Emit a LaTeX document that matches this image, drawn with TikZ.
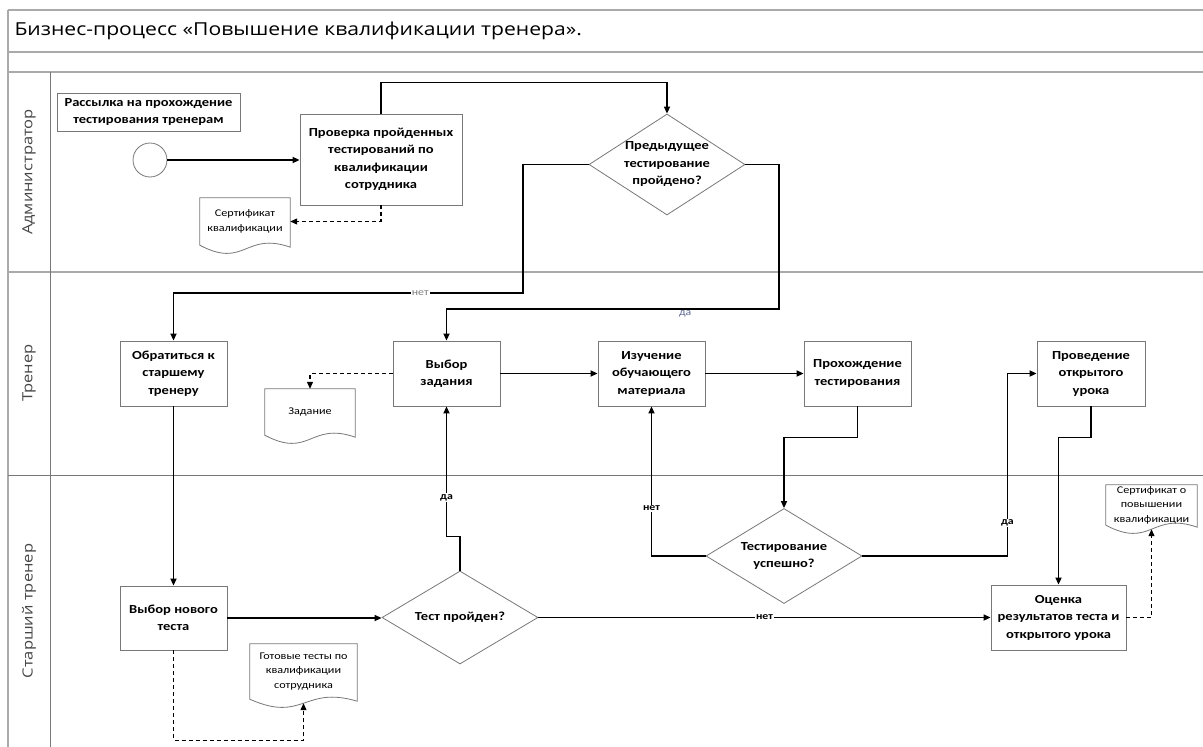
\documentclass[tikz,border=0pt]{standalone}
\usepackage{fontspec}
\setmainfont{Carlito}[FakeStretch=1.18]
\newfontfamily\headfont{Open Sans}[FakeStretch=1.18]
\usetikzlibrary{arrows.meta,positioning,calc,shapes.geometric}
\definecolor{lanegray}{RGB}{170,170,170}
\definecolor{boxgray}{RGB}{120,120,120}
\definecolor{lanetext}{RGB}{70,70,70}
\definecolor{notegray}{RGB}{125,125,125}
\definecolor{yesblue}{RGB}{95,105,150}

\newcommand{\boxtext}{\fontsize{12.3}{17.5}\selectfont\bfseries}
\newcommand{\doctext}{\fontsize{10.3}{14.5}\selectfont}
% document outline with wavy bottom
\newcommand{\docwave}[1]{\draw[docline] (#1.north west) -- (#1.north east) -- ([yshift=-2pt]#1.south east) .. controls ([yshift=14pt]#1.south) and ([yshift=-24pt]#1.south) .. (#1.south west) -- cycle;}

\begin{document}
\begin{tikzpicture}[x=1pt,y=-1pt,
  proc/.style={draw=boxgray,line width=0.8pt,fill=white,minimum width=107,minimum height=65,inner sep=2pt,align=center,font=\boxtext},
  decision/.style={diamond,draw=boxgray,line width=0.8pt,fill=white,shape aspect=1.55,minimum width=156,inner sep=0pt,align=center,font=\boxtext},
  doc/.style={minimum width=90,inner sep=1pt,align=center,font=\doctext},
  docline/.style={draw=boxgray,line width=0.8pt},
  lane/.style={lanegray,line width=2pt},
  lanename/.style={rotate=90,text=lanetext,font=\headfont\fontsize{14}{16}\selectfont},
  flow/.style={-{Triangle[length=7pt,width=6pt]},line width=1.6pt},
  dflow/.style={flow,line width=1.2pt,dash pattern=on 4pt off 3pt},
  lbl/.style={fill=white,inner sep=1pt,font=\bfseries\fontsize{10}{10}\selectfont},
  faint/.style={inner sep=1pt,font=\fontsize{10}{10}\selectfont}]
\useasboundingbox (0,0) rectangle (1203,747);
\fill[white] (0,0) rectangle (1203,747);

% pool and lanes
\foreach \y in {10,52,72,272}{\draw[lane] (8,\y) -- (1203,\y);}
\draw[lane] (8,10) -- (8,747);
\draw[boxgray,line width=0.8pt] (8,475) -- (1203,475);
\draw[boxgray,line width=0.8pt] (50,72) -- (50,747);
\node[anchor=west,font=\headfont\fontsize{17.9}{20}\selectfont] (title) at (11,31) {Бизнес-процесс «Повышение квалификации тренера».};
\node[lanename] (admin) at (29,172) {Администратор};
\node[lanename] (coach) at (29,373) {Тренер};
\node[lanename] (senior) at (29,611) {Старший тренер};

% administrator
\node[proc,minimum width=183,minimum height=38] (mail) at (148.5,112) {Рассылка на прохождение\\тестирования тренерам};
\node[circle,draw=boxgray,line width=0.8pt,minimum size=34] (start) at (150,160) {};
\node[proc,minimum width=162,minimum height=91] (check) at (381,159.5) {Проверка пройденных\\тестирований по\\квалификации\\сотрудника};
\node[decision,minimum height=101] (prev) at (667,164.5) {Предыдущее\\тестирование\\пройдено?};
\node[doc,minimum height=47] (cert) at (245,221.5) {Сертификат\\квалификации};

% trainer
\node[proc] (ask) at (173.5,373.5) {Обратиться к\\старшему\\тренеру};
\node[proc] (task) at (446.5,373.5) {Выбор\\задания};
\node[proc] (study) at (651.5,373.5) {Изучение\\обучающего\\материала};
\node[proc] (pass) at (857.5,373.5) {Прохождение\\тестирования};
\node[proc,minimum width=108] (lesson) at (1091,373.5) {Проведение\\открытого\\урока};
\node[doc,minimum height=46] (taskdoc) at (310,412) {Задание};

% senior trainer
\node[proc,minimum height=64] (newtest) at (173.5,618) {Выбор нового\\теста};
\node[decision,minimum height=93] (passq) at (460,617.5) {Тест пройден?};
\node[decision,minimum height=95] (succ) at (784,556) {Тестирование\\успешно?};
\node[proc,minimum width=135] (eval) at (1058.5,617.5) {Оценка\\результатов теста и\\открытого урока};
\node[doc,minimum width=107,minimum height=55] (ready) at (303.5,671.5) {Готовые тесты по\\квалификации\\сотрудника};
\node[doc,minimum width=91,minimum height=40] (diploma) at (1151.5,505) {Сертификат о\\повышении\\квалификации};

\foreach \dn in {cert,taskdoc,ready,diploma}{\docwave{\dn}}

\coordinate (noturn) at (523,293);
\coordinate (yesturn) at (779,309);
\coordinate (readyin) at ([yshift=-4pt]ready.south);
\coordinate (diplomain) at ([yshift=-4pt]diploma.south);

% flows
\draw[flow] (start.east) -- (start.east -| check.west);
\draw[flow] (check.north) -- ++(0,-31) -| (prev.north);
\draw[dflow] (check.south) |- (cert.east);
\draw[flow] (prev.west) -| (noturn) -| (ask.north) node[faint,text=notegray,fill=white,pos=0.147] {нет};
\draw[flow] (prev.east) -| (yesturn) -| (task.north) node[faint,text=yesblue,pos=0.141,yshift=-5pt] {да};
\draw[dflow] (task.west) -| (taskdoc.north);
\draw[flow] (task.east) -- (study.west);
\draw[flow] (study.east) -- (pass.west);
\draw[flow] (pass.south) -- ++(0,31) -| (succ.north);
\draw[flow] (succ.west) -| (study.south) node[lbl,pos=0.66] {нет};
\draw[flow] (succ.east) -- ++(145,0) |- (lesson.west) node[lbl,pos=0.09] {да};
\draw[flow] (lesson.south) -- ++(0,31) -| (eval.north);
\draw[flow] (ask.south) -- (newtest.north);
\draw[flow] (newtest.east) -- (newtest.east -| passq.west);
\draw[flow] (passq.east) -- (eval.west) node[lbl,pos=0.5] {нет};
\draw[flow] (passq.north) -- ++(0,-34) -| (task.south) node[lbl,pos=0.65] {да};
\draw[dflow] (newtest.south) -- ++(0,90) -| (readyin);
\draw[dflow] (eval.east) -| (diplomain);
\end{tikzpicture}
\end{document}
